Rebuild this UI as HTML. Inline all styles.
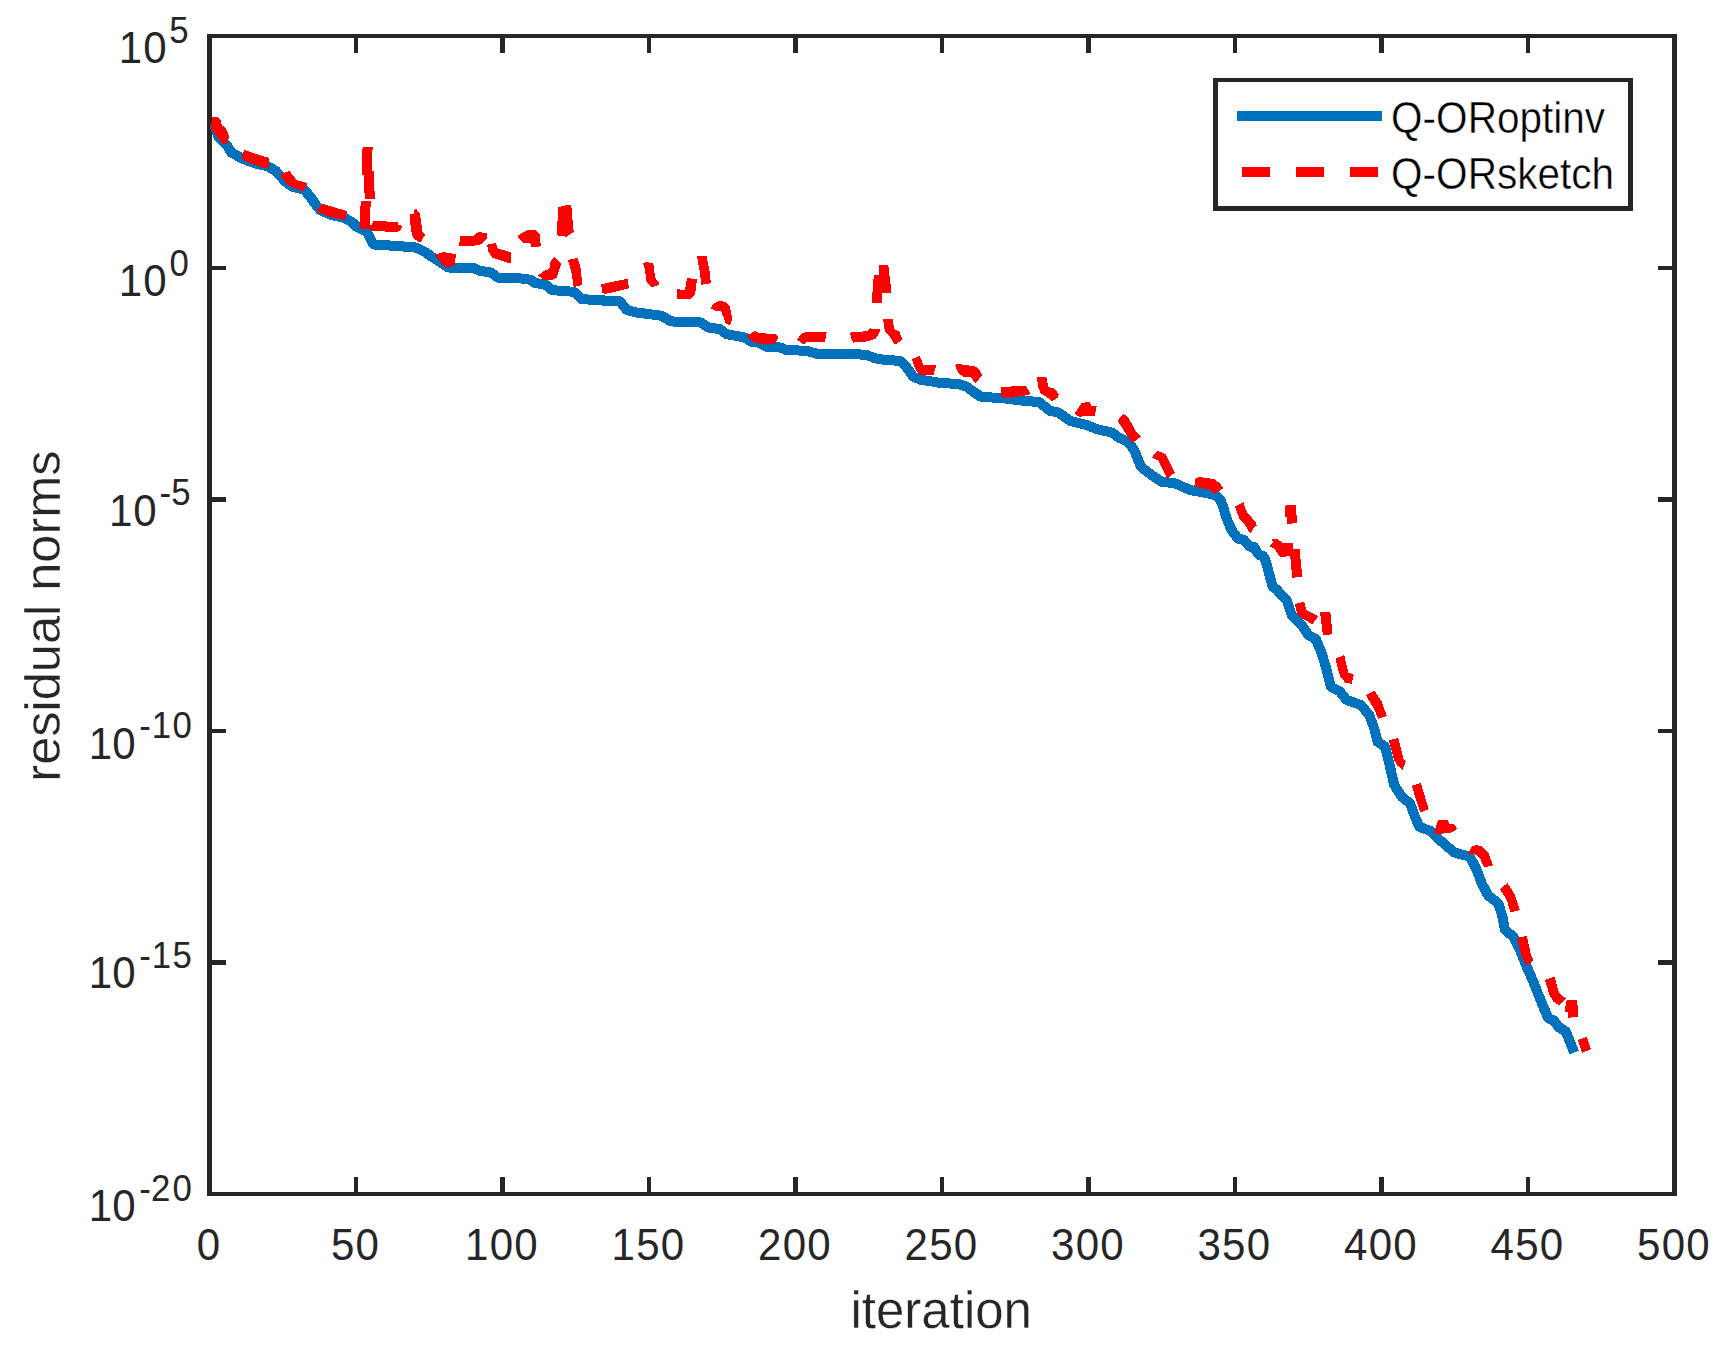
<!DOCTYPE html>
<html lang="en"><head><meta charset="utf-8"><title>Residual norms</title>
<style>html,body{margin:0;padding:0;background:#fff}body{width:1726px;height:1348px;overflow:hidden}svg{display:block}text{font-family:"Liberation Sans",Arial,Helvetica,sans-serif;fill:#262626}.lg text{fill:#000;stroke:#fff;stroke-width:.45px}.al{stroke:#fff;stroke-width:.35px}</style></head><body>
<svg width="1726" height="1348" viewBox="0 0 1726 1348">
<rect width="1726" height="1348" fill="#fff"/>
<g shape-rendering="crispEdges">
<path fill="#262626" d="M207 34H212V1196H207ZM1672 34H1677V1196H1672ZM207 34H1677V38H207ZM207 1192H1677V1196H207ZM354 34H358V53H354ZM354 1177H358V1196H354ZM500 34H505V53H500ZM500 1177H505V1196H500ZM647 34H651V53H647ZM647 1177H651V1196H647ZM793 34H798V53H793ZM793 1177H798V1196H793ZM940 34H944V53H940ZM940 1177H944V1196H940ZM1086 34H1091V53H1086ZM1086 1177H1091V1196H1086ZM1233 34H1237V53H1233ZM1233 1177H1237V1196H1233ZM1379 34H1384V53H1379ZM1379 1177H1384V1196H1379ZM1526 34H1530V53H1526ZM1526 1177H1530V1196H1526ZM207 266H226V270H207ZM1658 266H1677V270H1658ZM207 497H226V502H207ZM1658 497H1677V502H1658ZM207 729H226V733H207ZM1658 729H1677V733H1658ZM207 960H226V965H207ZM1658 960H1677V965H1658Z"/>
</g>
<clipPath id="pa"><rect x="210" y="36" width="1464.5" height="1158"/></clipPath>
<g shape-rendering="crispEdges" clip-path="url(#pa)">
<polyline points="214.3,123.5 216.6,131.8 218.3,136.6 222.8,141.6 227.5,146.25 231.25,152.5 242.5,158.75 256.25,163.75 267.5,166.25 276.25,171.25 285,181.25 292.5,186.9 303.75,189.4 310,196.25 315,203.75 320,210 331.25,215 343.75,217.5 352.5,222.5 357.5,227.5 363.5,229.8 367.6,233 371.4,241 373.8,244.5 386.7,245.3 400.9,246.4 413,246.9 418,248.6 424,251.4 431.7,256.7 438.3,260.8 448.3,267.5 473.3,268 480,270.8 490.8,272.5 498.3,277.8 513.3,277.8 526.3,279 531,280.1 534.4,282.8 545.1,284.7 547.7,286.1 551.9,290.1 563.4,291 572.6,291.7 576.1,293.2 581.5,299 591.8,299.8 602.6,300 603.9,301 619.3,301 621.1,302.7 626.7,310 636.7,312.5 661.7,315.8 670,320.8 675,321.7 700.8,322.5 708.3,327.5 720,329.2 726.7,334.2 745,337.5 750.8,341.7 758.3,342.5 766.7,346.7 780,347.5 786.7,350 806.7,350.8 816.7,353.7 850,353.7 866.7,355 875,358.3 885,360 900,360.8 906.7,367.5 913.3,376.7 921.7,380 933.3,381.7 941.7,383.3 957.5,383.7 966.7,386.7 973.3,391.7 980.8,396.7 1003.3,398.3 1023.3,400.8 1039.2,402 1050,410.8 1058.3,412.5 1070,420.8 1086.7,425 1096.7,429.2 1111.7,432.5 1120,438.3 1128.3,441.7 1135,451.7 1140.8,466.7 1151.7,475 1161.7,481.7 1175,483.3 1190,490 1203.3,492.5 1215,495 1220.4,500.2 1223.1,506.7 1225.6,515.5 1228.8,523.8 1232.1,530.9 1236.3,536.3 1238.4,538.8 1243.8,539.8 1247.1,543.8 1249.4,546.5 1254.4,547.3 1256.7,551.7 1259.6,555.1 1263.4,556.3 1265.5,560.5 1268.4,570.9 1270.7,579.7 1272.7,586.8 1276.9,589.5 1280.5,594.4 1286.7,600 1291.7,615 1297,620.5 1301.7,625 1308.3,635 1315.8,639.2 1321.7,653.3 1326.7,670 1330.8,686.7 1340,691.7 1346.7,700 1360.8,705 1369.2,715 1374.2,728.3 1377.5,741.7 1385,746.7 1390,766.7 1394.2,785 1401.7,796.7 1410,803.3 1415,816.7 1419.2,826.7 1430,830.8 1441.7,841.7 1454.2,852.5 1470,856.7 1476.7,870 1481.7,883.3 1488.3,895.8 1498.3,903.3 1502.5,916.7 1505,930 1513.3,936.7 1519.2,948.3 1526.7,966.7 1533.3,981.7 1537.5,992.5 1543.3,1006.7 1548.3,1018.3 1554.2,1020.8 1558.3,1026.7 1565.8,1031.7 1569.2,1040 1574.2,1052.5" fill="none" stroke="#0072BD" stroke-width="10" stroke-linejoin="round" stroke-linecap="butt"/>
<g fill="#FF0000">
<polygon points="211.9,116.75 216.9,116.75 220.2,119 221.1,122.5 222.25,125.8 224.9,127 226.1,128.5 227.9,133.2 228.9,136.2 228.9,138.9 226.85,138.9 226.85,144.05 222.25,144.05 217.8,137.7 213.06,131.7 211,127.5 211,121.6 211.9,121.6"/>
<polygon points="241.3,157.5 244.4,150 269.4,158.1 268.8,167.5 262.5,167.5 245,161.3"/>
<polygon points="280,174.4 289.4,171 293.8,176.3 296.3,180 307.5,183.1 303.1,191.3 293.8,188.1 286.3,183.8"/>
<polygon points="316.9,210 322.5,203.8 346.9,211 345,220.6 330,216.9 320,213.1"/>
<polygon points="362.9,147.1 373,147.1 373,150 372,150.2 372,171 374,171 374,191.1 375,191.1 375,198.8 365,198.8 365,192.7 364,192.6 364,174.9 361.9,174.9 361.9,149.2 362.9,148.8"/>
<polygon points="361,201.1 371,201.1 371,206.6 369.9,206.8 369.9,224.9 372.1,224.9 373.2,220.9 386.7,220.9 386.9,221.9 398,221.9 398.2,224.9 400.9,225.1 402.2,227.2 400.2,230.1 398,231.8 385.1,231.8 384.9,230.8 372.1,230.8 369.6,228.9 360,228.9 360,206.3 361,205.9"/>
<polygon points="410.1,214.1 413.8,213.8 414.3,210.5 415.9,208.8 419.9,213.4 420.8,220.1 421.9,227.2 422.2,231.8 425.1,234.7 420.8,241.8 418.4,241.8 413.4,238 411.9,235.1 410.9,228 410.1,221.4"/>
<polygon points="435,255 443.3,252 455.8,254.2 455,265 447.5,268 442.5,265"/>
<polygon points="460,236.2 473.3,235.8 478.3,232 486.7,233.3 487.5,237.5 481.7,244.2 473.3,245.8 459.2,245.8"/>
<polygon points="487,244.7 495.8,243 497.5,248.3 511.3,252.5 511.3,262.5 506.7,262.5 492.5,257.5 488.3,251.7"/>
<polygon points="518,235.3 528.3,230 535,230 539.7,234.2 540.8,246.3 531.3,247.5 530,242.5 523.3,242.5 518.3,238.3"/>
<polygon points="558,207.5 566.7,205 571.3,205.3 572.5,220 573.7,231.7 566.7,236.7 557,235.3"/>
<polygon points="538,275.3 545,270.3 549.2,269.2 550.8,260.8 554.7,257 561.3,263.7 556.7,277.5 552.5,279.7 543.3,279.7"/>
<polygon points="568,260 577.5,258 580.3,266.7 582.5,285 573.7,287 571.7,273.3"/>
<polygon points="601.3,284.2 627.5,278.8 629.2,288.3 621.7,290 606.7,293.7 602,293.3"/>
<polygon points="643,263 646.7,262 653.3,263.7 655,277.5 660,284.2 651.7,287.5 646.7,282.5 645,270"/>
<polygon points="677.5,289.2 685,290 687,278 697,279.2 695,295 690.8,298.7 677,299.5"/>
<polygon points="697,256.3 706.7,256.3 710,273.3 710.8,283.3 701.3,284.7 700,273.3"/>
<polygon points="710.8,308.3 713.7,303.3 720,300.8 725.8,302 729.7,306.7 732.5,319.2 729.7,325.3 725.8,323.3 721.3,311.3 716.7,311.3"/>
<polygon points="747,335.8 755,330.8 760,333.3 775,333.8 778.7,336.7 774.7,343.7 760,343.7 751.7,341.3"/>
<polygon points="797,339.7 801.7,333.3 806.7,332 826.7,332 825,341.7 806.7,342 804.2,344.7"/>
<polygon points="850,333 852.1,331.9 863,331.9 863.4,330.9 868,330.8 870.5,328 871.3,329.1 880.1,329.1 880.1,330.9 878.8,333.8 877.6,335.9 875.5,338.8 870.1,340.5 865.1,341.8 855,342.2 853.4,343 851.3,338.4"/>
<polygon points="878.7,265 888.3,265 890.8,286.7 890.8,292.5 882.5,292.8 881.7,302.5 871.7,302.5 873.8,275 878.7,274.7"/>
<polygon points="883,318.8 892.5,318.8 894.2,329.2 899.2,331.7 902.5,339.7 894.7,344.7 890,336.7 885,331.7"/>
<polygon points="911.7,359.2 919.7,355.8 923.3,365 936.3,365.3 933.3,375.3 920,375.3 915.8,370"/>
<polygon points="955,365 957.5,363.8 975,366.3 979.2,369.2 982,375 975.8,383 970,376.7 963.3,376.7 958.3,373.3"/>
<polygon points="1000.8,387 1025.8,385.8 1030.8,394.2 1023.3,395.8 1006.7,398 1000.8,396.7"/>
<polygon points="1036.7,377 1046.3,377 1048.3,387 1054.2,388.7 1058.8,394.2 1058,397.5 1051.7,401.7 1047.5,397.5 1040.8,393.3 1038.3,387.5"/>
<polygon points="1075,413.3 1081.3,403.3 1089.2,401.7 1091.7,405.8 1096.7,406.3 1094.7,415.8 1085,415.8 1079.2,417"/>
<polygon points="1117.5,420.8 1123.3,413.7 1128.3,417.5 1135,430 1140.8,436.7 1132.5,443 1126.7,435 1122.5,428.3"/>
<polygon points="1151.7,457.5 1157.5,450.8 1165.8,454.2 1174.7,472.5 1167.5,478.7 1163.3,470.8 1158.3,460.8"/>
<polygon points="1194.2,486.3 1195.8,478 1200,477 1214.2,479.2 1220.8,484.2 1223,488.3 1214.7,493.7 1208.3,489.2 1201.7,488.3"/>
<polygon points="1235,506.3 1243.4,502.1 1245.9,510 1248.4,514.2 1255.1,521.3 1256.7,525.5 1253,528.4 1251.3,533 1249.6,532.6 1245,525 1239.2,518.4 1237.1,512.5"/>
<polygon points="1285.9,505 1295.9,505 1295.5,515 1296.8,515.5 1297,522.7 1292.2,523 1291.8,523.8 1287.2,523.8 1287.2,516.7 1285.1,516.7 1285.1,507.5"/>
<polygon points="1269.2,546.3 1273,542.6 1272.2,539.2 1278,539.2 1282.2,543 1292.8,543 1292.8,549.1 1299.9,549.1 1300.1,558.4 1300.9,558.8 1301.1,569.3 1301.9,569.3 1301.9,576.8 1295.1,576.8 1294.7,577.8 1292,577.8 1292,570.1 1290.9,569.7 1290.9,559.3 1289.9,558.8 1289.9,555.9 1285.9,555.9 1285.5,556.8 1280.5,556.8 1277.2,553 1275.1,549.2"/>
<polygon points="1294.7,604.2 1304.2,601.7 1306.3,610 1318.3,616.3 1312.5,624.2 1301.7,618.3 1297,613.3"/>
<polygon points="1320,612.5 1330.3,611.7 1332.5,634.2 1323,635.3"/>
<polygon points="1335.3,658.7 1344.2,655 1348.3,672.5 1353.7,674.7 1351.7,683.7 1345.8,683 1340.8,677.5 1338,669.2"/>
<polygon points="1365.8,695 1374.7,690.8 1381.7,701.7 1386.7,715.8 1378.3,718.7 1373.3,707.5"/>
<polygon points="1388.7,740.3 1398.3,738 1403.3,758.3 1405.8,761.3 1402.5,769.7 1397,765.3 1394.2,760"/>
<polygon points="1411.7,785.8 1420.8,783 1428.7,809.2 1420.3,812.5"/>
<polygon points="1434.7,830.5 1438.3,820 1447.5,820 1449.7,824 1454.2,824.5 1457.5,828.8 1450.8,832.8 1438.3,834 1435,834.2"/>
<polygon points="1468,853.7 1471.7,846.3 1476.7,845 1482.5,846.7 1488.3,852.5 1493,865.3 1484.2,867.5 1480,858.3 1475,854.2"/>
<polygon points="1500,889.2 1507.5,883 1515,895 1520,910 1510.8,912.5 1506.7,900"/>
<polygon points="1517,938 1526.7,935.8 1530.8,954.2 1533.7,960 1526.7,965.8 1521.7,956.7"/>
<polygon points="1545,980 1554.7,976.7 1558.8,992.5 1565.8,998.5 1559.2,1005 1553.3,1001.8 1549.2,994.2"/>
<polygon points="1567.1,1000 1576.8,1000 1577.9,1007.5 1577.9,1016.7 1568.2,1017.9 1567.9,1012.5 1565,1011.7 1565.8,1003.3"/>
<polygon points="1577.9,1039.8 1586.7,1036.8 1591,1049.2 1582.1,1052.9"/>
</g>
</g>
<g font-size="44.5" text-anchor="middle" transform="scale(0.945,1)" letter-spacing="1.2">
<text x="221.06" y="1260.4">0</text>
<text x="376.08" y="1260.4">50</text>
<text x="531.11" y="1260.4">100</text>
<text x="686.14" y="1260.4">150</text>
<text x="841.16" y="1260.4">200</text>
<text x="996.19" y="1260.4">250</text>
<text x="1151.22" y="1260.4">300</text>
<text x="1306.24" y="1260.4">350</text>
<text x="1461.27" y="1260.4">400</text>
<text x="1616.3" y="1260.4">450</text>
<text x="1771.32" y="1260.4">500</text>
</g>
<g font-size="44.5" transform="scale(0.945,1)">
<text x="125.61 151.53" y="62.8">10<tspan font-size="36.8" x="179.11" y="42.6">5</tspan></text>
<text x="125.61 151.53" y="295.8">10<tspan font-size="36.8" x="179.37" y="275.6">0</tspan></text>
<text x="115.24 141.06" y="525.8">10<tspan font-size="36.8" x="168.68 181.33" y="504.85">-5</tspan></text>
<text x="93.86 118.84" y="758.8">10<tspan font-size="36.8" x="147.3 160.71 182.65" y="738">-10</tspan></text>
<text x="93.86 118.84" y="987.9">10<tspan font-size="36.8" x="147.3 160.71 182.6" y="968">-15</tspan></text>
<text x="93.86 118.84" y="1220.7">10<tspan font-size="36.8" x="147.3 159.89 182.65" y="1200.9">-20</tspan></text>
</g>
<text class="al" x="850.5" y="1327.7" font-size="51">iteration</text>
<text class="al" transform="translate(59.8,781.65) rotate(-90)" font-size="50.5">residual norms</text>
<g shape-rendering="crispEdges">
<path fill="#262626" d="M1213 78H1633V211H1213Z"/>
<rect x="1218" y="82" width="410" height="124" fill="#fff"/>
<rect x="1237" y="111" width="145" height="10" fill="#0072BD"/>
<path fill="#FF0000" d="M1242 167h28v10h-28zM1296 167h28v10h-28zM1350 167h28v10h-28z"/>
</g>
<g class="lg" font-size="43.6" transform="scale(0.93,1)">
<text x="1495.81" y="133">Q-ORoptinv</text>
<text x="1495.81" y="188.8">Q-ORsketch</text>
</g>
</svg></body></html>
